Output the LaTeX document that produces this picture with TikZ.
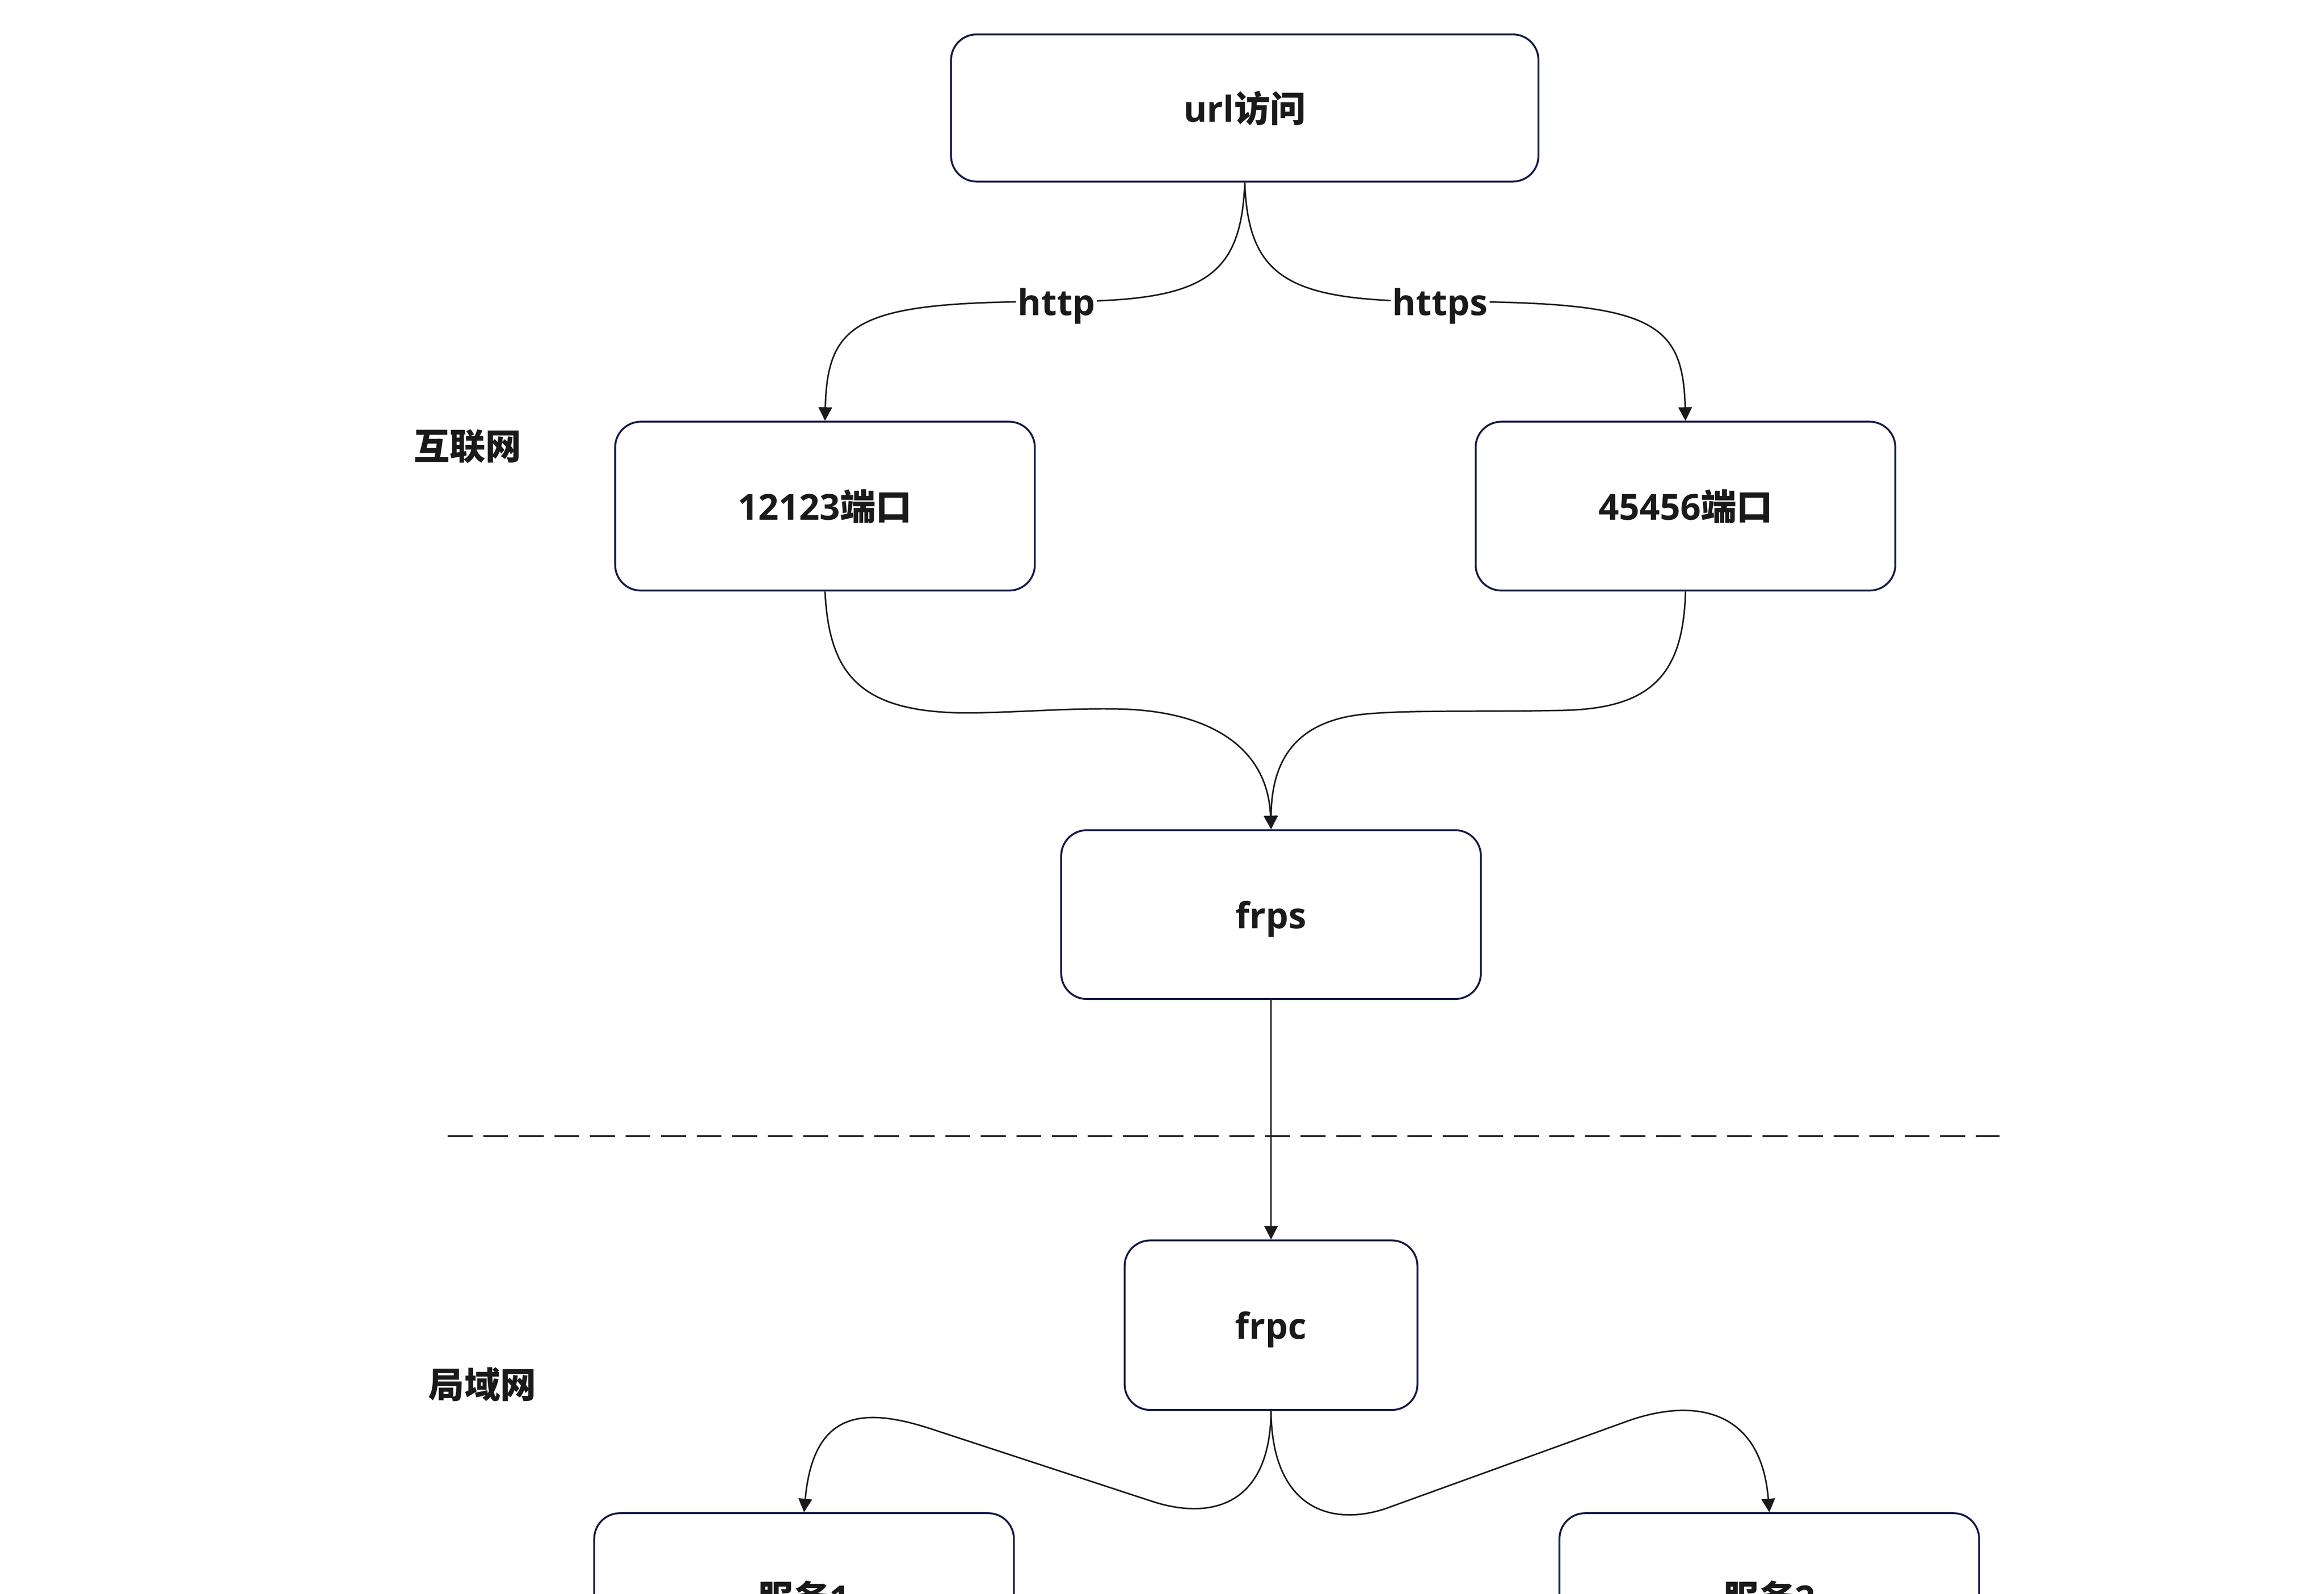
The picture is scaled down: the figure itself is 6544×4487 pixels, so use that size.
\documentclass[tikz,border=0pt]{standalone}
\usepackage{fontspec}
\setmainfont{Open Sans}
\newfontfamily\cjk{Noto Sans CJK SC}
\usetikzlibrary{arrows.meta}
\definecolor{boxline}{HTML}{141A47}
\definecolor{ink}{HTML}{1A1A1A}
\begin{document}
\begin{tikzpicture}[x=0.01cm,y=-0.01cm,
  txt/.style={text=ink, font=\fontsize{28.7pt}{34pt}\selectfont\bfseries,
    text height=0.907cm, text depth=0.121cm, inner sep=0pt},
  box/.style={txt, draw=boxline, line width=1.5pt, rounded corners=0.72cm,
    fill=white, minimum width=11.81cm, minimum height=4.75cm},
  edgeline/.style={draw=ink, line width=1.2pt},
  arr/.style={-{Triangle[length=0.38cm,width=0.38cm]}},
  elabel/.style={txt, fill=white, inner xsep=1.5pt, inner ysep=0pt}
]
\useasboundingbox (0,0) rectangle (6544,4487);
\fill[white] (0,0) rectangle (6544,4487);
\clip (0,0) rectangle (6544,4487);

% nodes
\node[box, minimum width=16.53cm, minimum height=4.14cm] (url) at (3505,304) {url{\cjk 访问}};
\node[box] (p1) at (2323,1425) {12123{\cjk 端口}};
\node[box] (p2) at (4746,1425) {45456{\cjk 端口}};
\node[box] (frps) at (3579,2575) {frps};
\node[box, minimum width=8.24cm, minimum height=4.77cm] (frpc) at (3579,3731) {frpc};
\node[box] (s1) at (2264,4498) {{\cjk 服务}1};
\node[box] (s2) at (4982,4498) {{\cjk 服务}2};

\node[txt] (inet) at (1317,1254) {{\cjk 互联网}};
\node[txt] (lan) at (1358,3897) {{\cjk 局域网}};

% separator
\coordinate (sepL) at (1261,3199);
\coordinate (sepR) at (5631,3199);
\draw[ink, line width=1.6pt, dash pattern=on 0.7cm off 0.3cm] (sepL) -- (sepR);

% url -> ports
\coordinate (httpc) at (2975,849);
\coordinate (httpsc) at (4055,849);
\draw[edgeline,arr] (url.south) .. controls (3495,790) and (3380,849) .. (httpc)
  .. controls (2420,849) and (2330,900) .. (p1.north);
\draw[edgeline,arr] (url.south) .. controls (3515,790) and (3635,849) .. (httpsc)
  .. controls (4649,849) and (4739,900) .. (p2.north);
\node[elabel] (http) at (httpc) {http};
\node[elabel] (https) at (httpsc) {https};

% ports -> frps
\draw[edgeline,arr] (p1.south) .. controls (2335,1900) and (2420,2012) .. (2747,2007)
  .. controls (2900,2004) and (3000,1994) .. (3145,1996)
  .. controls (3400,2000) and (3570,2100) .. (frps.north);
\draw[edgeline,arr] (p2.south) .. controls (4740,1900) and (4650,1995) .. (4400,2000)
  .. controls (4150,2005) and (3950,1998) .. (3830,2012)
  .. controls (3640,2035) and (3580,2150) .. (frps.north);

% frps -> frpc
\draw[edgeline,arr] (frps) -- (frpc);

% frpc -> services
\draw[edgeline,arr] (frpc.south) .. controls (3577,4230) and (3420,4285) .. (3241,4226)
  -- (2625,4024) .. controls (2425,3958) and (2290,3975) .. (s1.north);
\draw[edgeline,arr] (frpc.south) .. controls (3581,4240) and (3740,4300) .. (3900,4248)
  -- (4580,4002) .. controls (4780,3930) and (4960,3975) .. (s2.north);
\end{tikzpicture}
\end{document}
